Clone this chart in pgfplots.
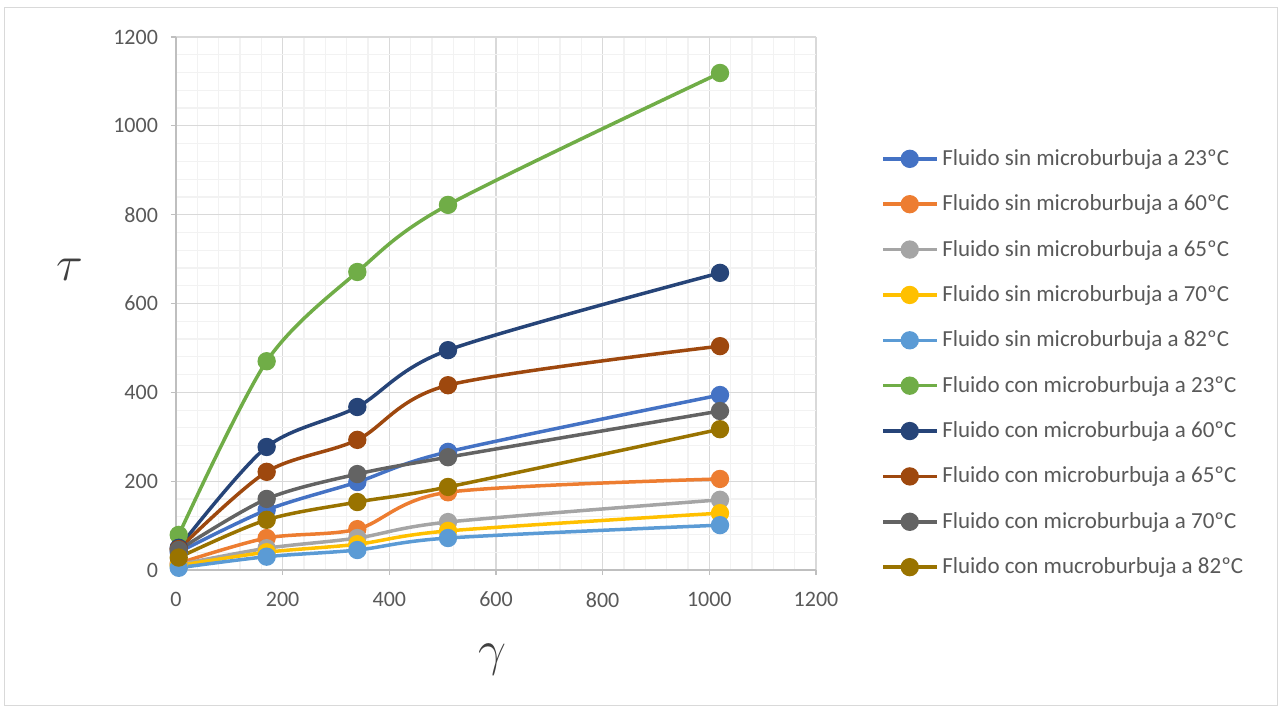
\documentclass[border=0pt]{standalone}
\usepackage{pgfplots}
\pgfplotsset{compat=1.18}
\usepackage{fontspec}
\setmainfont{Carlito}
\definecolor{c1}{HTML}{4472C4}
\definecolor{c2}{HTML}{ED7D31}
\definecolor{c3}{HTML}{A5A5A5}
\definecolor{c4}{HTML}{FFC000}
\definecolor{c5}{HTML}{5B9BD5}
\definecolor{c6}{HTML}{70AD47}
\definecolor{c7}{HTML}{264478}
\definecolor{c8}{HTML}{9E480E}
\definecolor{c9}{HTML}{636363}
\definecolor{c10}{HTML}{997300}
\definecolor{txt}{HTML}{595959}
\begin{document}
\begin{tikzpicture}
\useasboundingbox (0,0) rectangle (641pt,354.5pt);
\draw[color=black!15, line width=0.5pt] (2pt,2pt) rectangle (638.5pt,350.5pt);
\begin{axis}[
  at={(88pt,69.5pt)}, anchor=south west,
  scale only axis, width=320pt, height=266.5pt,
  xmin=0, xmax=1200, ymin=0, ymax=1200,
  xtick={0,200,...,1200}, ytick={0,200,...,1200},
  minor tick num=4,
  grid=both,
  major grid style={color=black!15, line width=0.6pt},
  minor grid style={color=black!5, line width=0.6pt},
  axis x line*=bottom, axis y line*=left,
  axis line style={color=black!25, line width=0.6pt},
  tick align=outside, major tick length=2.5pt, minor tick length=0pt,
  tick style={color=black!25, line width=0.6pt},
  ticklabel style={font=\fontsize{11}{13}\selectfont, text=txt},
  yticklabel style={xshift=-3pt},
  xticklabel style={yshift=-5pt},
  /pgf/number format/assume math mode=true,
  scaled ticks=false,
  /pgf/number format/1000 sep={},
  xlabel={$\gamma$}, ylabel={$\tau$},
  xlabel style={at={(axis description cs:0.495,-0.169)}, anchor=center, font=\fontsize{28}{32}\selectfont, text=black!75},
  ylabel style={at={(axis description cs:-0.166,0.563)}, anchor=center, rotate=-90, font=\fontsize{26}{30}\selectfont, text=black!75},
  legend style={at={(axis description cs:1.092,0.805)}, anchor=north west, draw=none, fill=none,
    font=\fontsize{11.5}{14}\selectfont, text=txt, row sep=9.2pt, cells={anchor=west}},
  legend cell align=left,
  every axis plot/.append style={line width=1.75pt, smooth, tension=0.5, mark=*, mark size=3.7pt, mark options={solid}},
  legend image code/.code={
    \draw[#1, mark repeat=2, mark phase=2] plot coordinates {(0cm,0cm) (0.47cm,0cm) (0.94cm,0cm)};
  },
]
\addplot[color=c1] coordinates {(5.11,40) (170,135) (340,198) (510,266) (1020,394)};
\addlegendentry{Fluido sin microburbuja a 23ºC}
\addplot[color=c2] coordinates {(5.11,15) (170,72) (340,92) (510,175) (1020,205)};
\addlegendentry{Fluido sin microburbuja a 60ºC}
\addplot[color=c3] coordinates {(5.11,12) (170,49) (340,72) (510,108) (1020,158)};
\addlegendentry{Fluido sin microburbuja a 65ºC}
\addplot[color=c4] coordinates {(5.11,10) (170,40) (340,58) (510,88) (1020,128)};
\addlegendentry{Fluido sin microburbuja a 70ºC}
\addplot[color=c5] coordinates {(5.11,5) (170,30) (340,45) (510,72) (1020,101)};
\addlegendentry{Fluido sin microburbuja a 82ºC}
\addplot[color=c6] coordinates {(5.11,79) (170,470) (340,671) (510,822) (1020,1119)};
\addlegendentry{Fluido con microburbuja a 23ºC}
\addplot[color=c7] coordinates {(5.11,50) (170,277) (340,367) (510,495) (1020,669)};
\addlegendentry{Fluido con microburbuja a 60ºC}
\addplot[color=c8] coordinates {(5.11,47) (170,221) (340,293) (510,416) (1020,504)};
\addlegendentry{Fluido con microburbuja a 65ºC}
\addplot[color=c9] coordinates {(5.11,45) (170,160) (340,216) (510,254) (1020,358)};
\addlegendentry{Fluido con microburbuja a 70ºC}
\addplot[color=c10] coordinates {(5.11,28) (170,113) (340,153) (510,187) (1020,317)};
\addlegendentry{Fluido con mucroburbuja a 82ºC}
\end{axis}
\end{tikzpicture}
\end{document}
